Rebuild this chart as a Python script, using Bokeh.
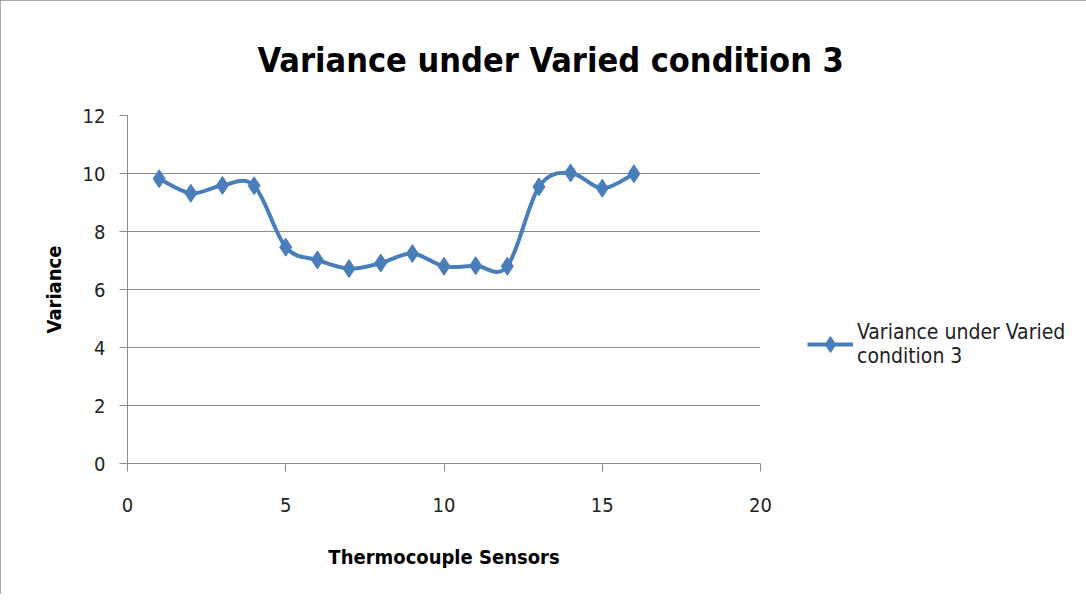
from bokeh.plotting import figure
from bokeh.models import Range1d, Legend, LegendItem, ColumnDataSource, FixedTicker, Title
from bokeh.embed import file_html
from bokeh.resources import INLINE

# ---- data ----
sensors = [1, 2, 3, 4, 5, 6, 7, 8, 9, 10, 11, 12, 13, 14, 15, 16]
variance = [9.82, 9.32, 9.59, 9.58, 7.46, 7.02, 6.72, 6.91, 7.24, 6.80, 6.82, 6.80, 9.54, 10.02, 9.49, 9.99]
series_name = "Variance under Varied\ncondition 3"
title_text = "Variance under Varied condition 3"
x_ticks = [0, 5, 10, 15, 20]
y_ticks = [0, 2, 4, 6, 8, 10, 12]

FONT = "'DejaVu Sans Condensed', Lato, sans-serif"
BLUE = "#4A7EBB"
GRID = "#8C8C8C"

# Excel-style smoothed curve: cubic Bezier segments (Catmull-Rom, tension 1/6)
n = len(sensors)
seg = dict(x0=[], y0=[], x1=[], y1=[], cx0=[], cy0=[], cx1=[], cy1=[])
for i in range(n - 1):
    xm, ym = sensors[max(i - 1, 0)], variance[max(i - 1, 0)]
    xa, ya = sensors[i], variance[i]
    xb, yb = sensors[i + 1], variance[i + 1]
    xp, yp = sensors[min(i + 2, n - 1)], variance[min(i + 2, n - 1)]
    seg["x0"].append(xa); seg["y0"].append(ya)
    seg["x1"].append(xb); seg["y1"].append(yb)
    seg["cx0"].append(xa + (xb - xm) / 6); seg["cy0"].append(ya + (yb - ym) / 6)
    seg["cx1"].append(xb - (xp - xa) / 6); seg["cy1"].append(yb - (yp - ya) / 6)

p = figure(frame_width=633, frame_height=348, output_backend="svg", toolbar_location=None,
           x_range=Range1d(0, 20), y_range=Range1d(0, 12),
           min_border_left=127, min_border_right=0, min_border_top=115, min_border_bottom=131)
p.styles = {"outline": "1px solid #8C8C8C", "outline-offset": "-1px"}

p.title = Title(text=title_text, align="left", offset=130, text_font=FONT,
                text_font_size="34px", text_font_style="bold", text_color="#000000", standoff=72)

p.outline_line_color = None
p.background_fill_color = "white"
p.border_fill_color = "white"

p.xgrid.visible = False
p.ygrid.grid_line_color = GRID
p.ygrid.grid_line_width = 1
p.ygrid.ticker = FixedTicker(ticks=y_ticks)

for ax in (p.xaxis[0], p.yaxis[0]):
    ax.axis_line_color = GRID
    ax.major_tick_line_color = GRID
    ax.minor_tick_line_color = None
    ax.major_tick_in = 0
    ax.major_tick_out = 8
    ax.major_label_text_font = FONT
    ax.major_label_text_font_size = "20px"
    ax.major_label_text_color = "#222222"
    ax.axis_label_text_font = FONT
    ax.axis_label_text_font_style = "bold"
    ax.axis_label_text_font_size = "20px"
    ax.axis_label_text_color = "#000000"

p.xaxis.ticker = FixedTicker(ticks=x_ticks)
p.yaxis.ticker = FixedTicker(ticks=y_ticks)
p.xaxis.major_label_standoff = 26
p.yaxis.major_label_standoff = 14
p.xaxis.axis_label = "Thermocouple Sensors"
p.yaxis.axis_label = "Variance"
p.xaxis.axis_label_standoff = 30
p.yaxis.axis_label_standoff = 14

curve = p.bezier(source=ColumnDataSource(seg), x0="x0", y0="y0", x1="x1", y1="y1",
                 cx0="cx0", cy0="cy0", cx1="cx1", cy1="cy1",
                 line_color=BLUE, line_width=4)
pts = p.scatter(sensors, variance, marker="diamond", size=18,
                fill_color=BLUE, line_color=BLUE)

legend = Legend(items=[LegendItem(label=series_name, renderers=[curve, pts])],
                location=(47, 95), label_text_font=FONT, label_text_font_size="21px",
                label_text_color="#222222", glyph_width=46, glyph_height=40,
                border_line_color=None, background_fill_alpha=0, padding=0, margin=0,
                label_standoff=4)
p.add_layout(legend, "right")

open("out.html", "w").write(file_html(p, INLINE))
